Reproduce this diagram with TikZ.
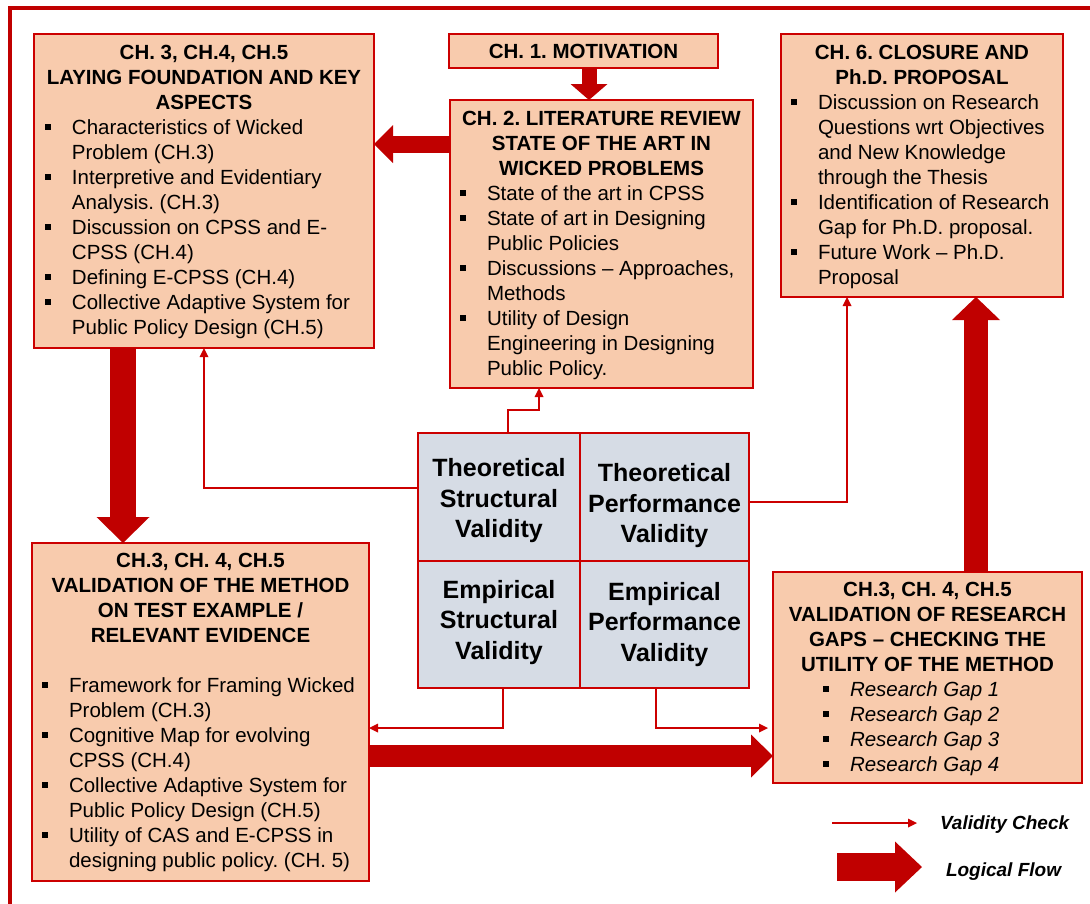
\documentclass[tikz,border=0pt]{standalone}
\usepackage{fontspec}
\setmainfont{Liberation Sans}
\usetikzlibrary{arrows.meta,calc}
\frenchspacing

\definecolor{flowred}{HTML}{C00000}
\definecolor{edgered}{HTML}{CC0000}
\definecolor{peach}{HTML}{F8CBAD}
\definecolor{slate}{HTML}{D6DCE5}

% bullet square and hanging indent for continuation lines
\newcommand{\bul}{\makebox[27pt][l]{\rule[4.5pt]{6pt}{6pt}}}
\newcommand{\cnt}{\hspace*{27pt}}
% text block of a box: first baseline on the node's base anchor
\newcommand{\boxtext}[2]{\parbox[t]{#1}{\fontsize{20.5}{25}\selectfont #2}}
% switch from the centred heading to the left-aligned list
\newcommand{\itemsat}[1]{\par\mdseries\raggedright\leftskip=#1\relax\hsize=600pt\relax}
% three centred lines of a grid cell, moved vertically by #1
\newcommand{\celllines}[4]{\raisebox{#1}[\height][\depth]{\begin{tabular}{@{}c@{}}#2\\#3\\#4\end{tabular}}}

\tikzset{
  box/.style={draw=edgered, line width=2pt, fill=peach, anchor=north west,
    inner sep=0pt, outer sep=0pt},
  cell/.style={draw=edgered, line width=2pt, fill=slate, anchor=north west,
    inner sep=0pt, outer sep=0pt, align=center,
    font=\bfseries\fontsize{25}{30.5}\selectfont},
  txt/.style={anchor=base west, inner sep=0pt, outer sep=0pt},
  check/.style={draw=edgered, line width=2pt,
    -{Triangle[length=9pt,width=9pt,line width=0pt]}},
  flow/.style n args={3}{draw=flowred, line width=#1,
    -{Triangle[length=#2,width=#3,line width=0pt]}},
}

\begin{document}
\begin{tikzpicture}[x=1pt,y=-1pt]
\useasboundingbox (0,0) rectangle (1090,903);
\clip (0,0) rectangle (1090,903);

% outer frame
\draw[flowred, line width=4pt] (10,920) -- (10,8) -- (1110,8);

% chapter boxes
\node[box, minimum width=340pt, minimum height=314pt] (lay) at (34,34) {};
\node[box, minimum width=269pt, minimum height=34pt,
  font=\bfseries\fontsize{20.5}{25}\selectfont] (mot) at (449,34) {CH. 1. MOTIVATION};
\node[box, minimum width=303pt, minimum height=288pt] (lit) at (450,100) {};
\node[box, minimum width=282pt, minimum height=263pt] (close) at (781,34) {};
\node[box, minimum width=337pt, minimum height=338pt] (val) at (32,543) {};
\node[box, minimum width=309pt, minimum height=211pt] (rg) at (773,572) {};

% validity grid
\node[cell, minimum width=162pt, minimum height=128pt] (TS) at (418,433)
  {\celllines{-4pt}{Theoretical}{Structural}{Validity}};
\node[cell, minimum width=169pt, minimum height=128pt] (TP) at (580,433)
  {\celllines{-9pt}{Theoretical}{Performance}{Validity}};
\node[cell, minimum width=162pt, minimum height=127pt] (ES) at (418,561)
  {\celllines{2pt}{Empirical}{Structural}{Validity}};
\node[cell, minimum width=169pt, minimum height=127pt] (EP) at (580,561)
  {\celllines{0pt}{Empirical}{Performance}{Validity}};

% box texts
\node[txt] (layText) at (34,59) {\boxtext{340pt}{\centering\bfseries
  CH. 3, CH.4, CH.5\\LAYING FOUNDATION AND KEY\\ASPECTS
  \itemsat{11pt}
  \bul Characteristics of Wicked\\\cnt Problem (CH.3)\\
  \bul Interpretive and Evidentiary\\\cnt Analysis. (CH.3)\\
  \bul Discussion on CPSS and E-\\\cnt CPSS (CH.4)\\
  \bul Defining E-CPSS (CH.4)\\
  \bul Collective Adaptive System for\\\cnt Public Policy Design (CH.5)}};

\node[txt] (litText) at (450,125) {\boxtext{303pt}{\centering\bfseries
  CH. 2. LITERATURE REVIEW\\STATE OF THE ART IN\\WICKED PROBLEMS
  \itemsat{10pt}
  \bul State of the art in CPSS\\
  \bul State of art in Designing\\\cnt Public Policies\\
  \bul Discussions -- Approaches,\\\cnt Methods\\
  \bul Utility of Design\\\cnt Engineering in Designing\\\cnt Public Policy.}};

\node[txt] (closeText) at (781,59) {\boxtext{282pt}{\centering\bfseries
  CH. 6. CLOSURE AND\\Ph.D. PROPOSAL
  \itemsat{10pt}
  \bul Discussion on Research\\\cnt Questions wrt Objectives\\\cnt and New Knowledge\\\cnt through the Thesis\\
  \bul Identification of Research\\\cnt Gap for Ph.D. proposal.\\
  \bul Future Work -- Ph.D.\\\cnt Proposal}};

\node[txt] (valText) at (32,567) {\boxtext{337pt}{\centering\bfseries
  CH.3, CH. 4, CH.5\\VALIDATION OF THE METHOD\\ON TEST EXAMPLE /\\RELEVANT EVIDENCE
  \par\vspace{25pt}
  \itemsat{10pt}
  \bul Framework for Framing Wicked\\\cnt Problem (CH.3)\\
  \bul Cognitive Map for evolving\\\cnt CPSS (CH.4)\\
  \bul Collective Adaptive System for\\\cnt Public Policy Design (CH.5)\\
  \bul Utility of CAS and E-CPSS in\\\cnt designing public policy. (CH. 5)}};

\node[txt] (rgText) at (773,596) {\boxtext{309pt}{\centering\bfseries
  CH.3, CH. 4, CH.5\\VALIDATION OF RESEARCH\\GAPS -- CHECKING THE\\UTILITY OF THE METHOD
  \itemsat{50pt}\itshape
  \bul Research Gap 1\\
  \bul Research Gap 2\\
  \bul Research Gap 3\\
  \bul Research Gap 4}};

% logical flow
\draw[flow={15pt}{16pt}{37pt}] ([xshift=5.5pt]mot.south) -- ([xshift=5.5pt]mot.south |- lit.north);
\draw[flow={17pt}{19pt}{38pt}] ([yshift=-44pt]lit.north west) -- ([yshift=-44pt]lit.north west -| lay.east);
\draw[flow={26pt}{26pt}{53pt}] ([xshift=89pt]lay.south west) -- ([xshift=89pt]lay.south west |- val.north);
\draw[flow={22pt}{22pt}{43pt}] ([yshift=-213pt]val.north east) -- ([yshift=-213pt]val.north east -| rg.west);
\draw[flow={24pt}{23pt}{48pt}] ([xshift=203pt]rg.north west) -- ([xshift=203pt]rg.north west |- close.south);

% validity checks
\draw[check] ([xshift=90pt]TS.north west) -- ++(0,-23) -| ([xshift=89pt]lit.south west);
\draw[check] ([yshift=-55pt]TS.north west) -| (lay.south);
\draw[check] ([yshift=-69pt]TP.north east) -| ([xshift=66pt]close.south west);
\draw[check] ([xshift=85pt]ES.south west) |- ([yshift=-185pt]val.north east);
\draw[check, shorten >=5pt] ([xshift=76pt]EP.south west) |- ([yshift=-156pt]rg.north west);

% legend
\coordinate (vcA) at (832,823);
\coordinate (vcB) at (917,823);
\draw[check] (vcA) -- (vcB);
\node[txt, font=\bfseries\itshape\fontsize{19}{23}\selectfont] (vcLabel) at (940,829) {Validity Check};
\coordinate (lfA) at (837,867);
\coordinate (lfB) at (922,867);
\draw[flow={28pt}{27pt}{51pt}] (lfA) -- (lfB);
\node[txt, font=\bfseries\itshape\fontsize{19}{23}\selectfont] (lfLabel) at (946,876) {Logical Flow};
\end{tikzpicture}
\end{document}
